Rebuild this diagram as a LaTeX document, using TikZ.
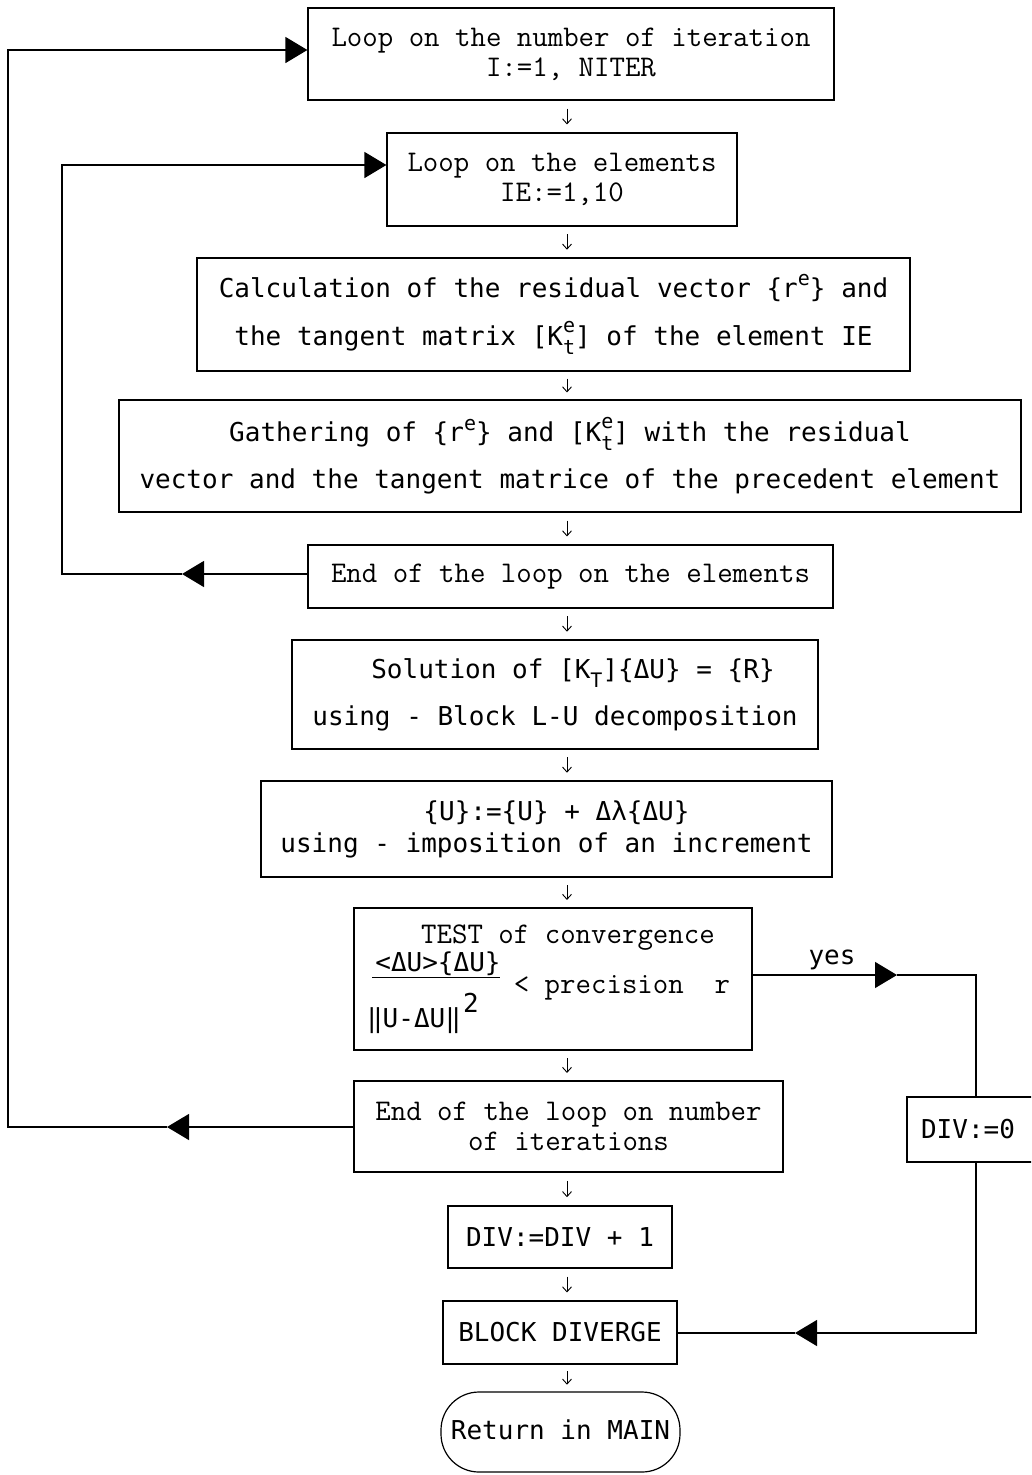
\documentclass[tikz,border=0pt]{standalone}
\usepackage{fontspec}
\usetikzlibrary{arrows.meta,calc}
\newfontfamily\lgf{DejaVu Sans Mono}
\newcommand\mySz{\fontsize{26}{30}\selectfont}
\newcommand\mySzT{\fontsize{30}{30}\selectfont}
\newcommand\mySmall{\fontsize{20}{20}\selectfont}
\newcommand\mySup[1]{\raisebox{0.45em}{\mySmall #1}}
\newcommand\mySub[1]{\raisebox{-0.35em}{\mySmall #1}}
\newcommand\myStk[2]{\rlap{\raisebox{0.5em}{\mySmall #1}}\raisebox{-0.35em}{\mySmall #2}}
\begin{document}
\begin{tikzpicture}[x=1pt,y=-1pt,
  box/.style={draw,line width=1.2pt,inner sep=0pt,align=center},
  ser/.style={font=\ttfamily\mySzT},
  san/.style={font=\lgf\mySz},
  big/.style={line width=1.3pt},
  bigtip/.style={-{Triangle[length=22pt,width=26pt]}},
  sarrow/.style={line width=0.9pt,-{Straight Barb[length=5pt,width=9pt]}}]
\useasboundingbox (0,0) rectangle (1031,1475);
\clip (0,0) rectangle (1031,1475);
\coordinate (ax) at (567,0);

\node[box,ser,minimum width=526pt,minimum height=92pt] (b1) at (571,54)
  {Loop on the number of iteration\\I:=1, NITER};
\node[box,ser,minimum width=350pt,minimum height=93pt] (b2) at (562,179.5)
  {Loop on the elements\\IE:=1,10};
\node[box,san,minimum width=713pt,minimum height=113pt] (b3) at (553.5,314.5)
  {Calculation of the residual vector \{r\mySup{e}\} and\\[18pt]the tangent matrix [K\myStk{e}{t}] of the element IE};
\node[box,san,minimum width=902pt,minimum height=112pt] (b4) at (570,456)
  {Gathering of \{r\mySup{e}\} and [K\myStk{e}{t}] with the residual\\[17pt]vector and the tangent matrice of the precedent element};
\node[box,ser,minimum width=525pt,minimum height=63pt] (b5) at (570.5,576.5)
  {End of the loop on the elements};
\node[box,san,minimum width=526pt,minimum height=109pt] (b6) at (555,694.5)
  {\hspace*{36pt}Solution of [K\mySub{T}]\{ΔU\} = \{R\}\\[17pt]using - Block L-U decomposition};
\node[box,san,minimum width=571pt,minimum height=96pt] (b7) at (546.5,829)
  {\hspace*{20pt}\{U\}:=\{U\} + Δλ\{ΔU\}\\[2pt]using - imposition of an increment};
\node[box,minimum width=398pt,minimum height=142pt] (b8) at (553,979) {};
\node[ser,inner sep=0pt] (t8a) at (568,938) {TEST of convergence};
\node[san,inner sep=0pt] (t8n) at (438,964) {<ΔU>\{ΔU\}};
\node[san,inner sep=0pt] (t8d) at (414,1021) {‖U-ΔU‖};
\node[san,inner sep=0pt] (t8s) at (471,1003) {2};
\node[ser,inner sep=0pt] (t8r) at (622,988) {< precision~~r};
\draw[line width=1pt] (372,977) -- (500,977);
\node[box,ser,minimum width=429pt,minimum height=91pt] (b9) at (568.5,1126.5)
  {End of the loop on number\\of iterations};
\node[box,san,minimum width=224pt,minimum height=62pt] (b10) at (560,1237)
  {DIV:=DIV + 1};
\node[box,san,minimum width=234pt,minimum height=63pt] (b11) at (560,1332.5)
  {BLOCK DIVERGE};
\node[box,san,minimum width=239pt,minimum height=80pt,rounded corners=38pt] (b12) at (560.5,1432)
  {\raisebox{4pt}{Return in MAIN}};
\node[box,san,minimum width=138pt,minimum height=65pt] (b13) at (976,1129.5)
  {DIV:=0\hspace*{16pt}};
\node[san,inner sep=0pt] (yes) at (832,960) {yes};

% small arrows
\foreach \a/\b in {b1/b2,b2/b3,b3/b4,b4/b5,b5/b6,b6/b7,b7/b8,b8/b9,b9/b10,b10/b11,b11/b12}{
  \draw[sarrow] ($(\a.south -| ax)!0.25!(\b.north -| ax)$) -- ($(\a.south -| ax)!0.75!(\b.north -| ax)$);
}

% outer loop
\coordinate (om) at (167,1127);
\coordinate (oc1) at (8,1127);
\coordinate (oc2) at (8,50);
\draw[big,bigtip] (b9.west |- om) -- (om);
\draw[big,bigtip] (om) -- (oc1) -- (oc2) -- (b1.west |- oc2);

% inner loop
\coordinate (im) at (182,574);
\coordinate (ic1) at (62,574);
\coordinate (ic2) at (62,165);
\draw[big,bigtip] (b5.west |- im) -- (im);
\draw[big,bigtip] (im) -- (ic1) -- (ic2) -- (b2.west |- ic2);

% yes branch
\coordinate (rm) at (897,975);
\coordinate (rc1) at (976,975);
\coordinate (rc2) at (976,1333);
\coordinate (bm) at (795,1333);
\draw[big,bigtip] (b8.east |- rm) -- (rm);
\draw[big] (rm) -- (rc1) -- (b13.north);
\draw[big,bigtip] (b13.south) -- (rc2) -- (bm);
\draw[big] (bm) -- (b11.east |- bm);
\end{tikzpicture}
\end{document}
